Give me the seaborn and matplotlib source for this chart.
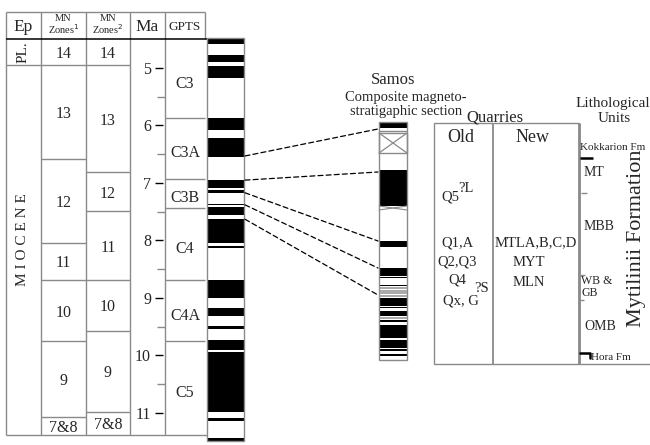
import matplotlib
matplotlib.use("Agg")
import matplotlib.pyplot as plt
from matplotlib.patches import Rectangle, ConnectionPatch
import seaborn as sns

sns.set_theme(style="white")
plt.rcParams["font.family"] = ["Liberation Serif", "DejaVu Serif"]

# ---------------- data ----------------
# age scale (Ma)
ma_ticks = [5, 6, 7, 8, 9, 10, 11]
ma_minor = [5.5, 6.5, 7.5, 8.5, 9.5, 10.5]

# mammal zones, two schemes (zone boundaries in Ma, top to base)
mn_labels = ["14", "13", "12", "11", "10", "9", "7&8"]
mn1_bounds = [4.50, 4.95, 6.58, 8.04, 8.69, 9.75, 11.07, 11.38]
mn2_bounds = [4.50, 4.95, 6.81, 7.49, 8.69, 9.57, 10.98, 11.38]

# geomagnetic polarity time scale chrons
gpts_labels = ["C3", "C3A", "C3B", "C4", "C4A", "C5"]
gpts_bounds = [4.50, 5.87, 6.93, 7.43, 8.69, 9.75, 11.38]

# normal polarity intervals of the GPTS column (Ma)
gpts_normal_top = [4.48, 4.77, 4.97, 5.87, 6.22, 6.95, 7.12, 7.37, 7.42, 7.63,
                   8.09, 8.69, 9.17, 9.49, 9.73, 9.94, 11.09, 11.44]
gpts_normal_base = [4.58, 4.89, 5.17, 6.08, 6.55, 7.09, 7.17, 7.39, 7.56, 8.04,
                    8.13, 9.00, 9.31, 9.54, 9.90, 10.98, 11.14, 11.49]

# Samos composite section, stratigraphic height (m above base)
samos_normal_top = [238, 190, 119, 92, 83.3, 75, 61.7, 53.3, 49.3, 40, 35, 20, 10.7, 5.7]
samos_normal_base = [232, 154, 113, 84, 82.3, 74, 54.3, 51.7, 44, 38.3, 21.7, 11.7, 9.3, 4.3]
samos_uncertain = [72, 69.5, 67, 64.5, 42]      # thin grey bands
samos_gap = (207, 227)                            # no-record interval

# correlation tie lines: GPTS age (Ma) -> Samos height (m)
tie_ma = [6.53, 6.95, 7.17, 7.38, 7.63]
tie_h = [231, 188, 119, 92, 65]

GRAY = "#8a8a8a"
W, H = 650, 445

fig = plt.figure(figsize=(6.5, 4.45), dpi=100)

# frame axes in pixel units for layout
ax = fig.add_axes([0, 0, 1, 1])
ax.set_xlim(0, W)
ax.set_ylim(H, 0)

# age axes: y in Ma (5 Ma at 68 px, 57.5 px per Ma)
Y5, PPM = 68.0, 57.5
ax_ma = fig.add_axes([0, 0, 1, 1])
ax_ma.set_xlim(0, W)
ax_ma.set_ylim(5 + (H - Y5) / PPM, 5 - Y5 / PPM)

# section axes: y in metres above base (base at 360 px)
ax_s = fig.add_axes([0, 0, 1, 1])
ax_s.set_xlim(0, W)
ax_s.set_ylim(360 - H, 360)

for a in (ax, ax_ma, ax_s):
    a.axis("off")
    a.patch.set_visible(False)

# ---------------- left table frame ----------------
col_x = [6, 41, 86, 130, 165, 205]
ax.hlines(12, 6, 205, colors=GRAY, lw=1)
ax.vlines(col_x[:-1], 12, 435, colors=GRAY, lw=1)
ax.vlines(205, 12, 39, colors=GRAY, lw=1)
ax.hlines(435, 6, 207, colors=GRAY, lw=1)
ax.hlines(39, 6, 207, colors="black", lw=1.1)

ax.text(23, 27, "Ep", ha="center", va="center", fontsize=12.5)
ax.text(63.5, 25, "MN\nZones$^{1}$", ha="center", va="center", fontsize=7.5, linespacing=1.0)
ax.text(108, 25, "MN\nZones$^{2}$", ha="center", va="center", fontsize=7.5, linespacing=1.0)
ax.text(147.5, 27, "Ma", ha="center", va="center", fontsize=12.5)
ax.text(185, 27, "GPTS", ha="center", va="center", fontsize=9.5)

# epochs
ax_ma.hlines(mn1_bounds[1], 6, 41, colors=GRAY, lw=1)
ax.text(23, 52, "PL.", rotation=90, ha="center", va="center", fontsize=11)
ax.text(23, 240, "M I O C E N E", rotation=90, ha="center", va="center", fontsize=11)

# MN zones
for bounds, x0, x1 in [(mn1_bounds, 41, 86), (mn2_bounds, 86, 130)]:
    ax_ma.hlines(bounds[1:-1], x0, x1, colors=GRAY, lw=1)
    for lab, top, base in zip(mn_labels, bounds[:-1], bounds[1:]):
        ax_ma.text((x0 + x1) / 2, (top + base) / 2, lab, ha="center",
                   va="center_baseline", fontsize=11.5)

# Ma scale
ax_ma.hlines(ma_ticks, 155, 163, colors="black", lw=1)
ax_ma.hlines(ma_minor, 157, 165, colors=GRAY, lw=1)
for t in ma_ticks:
    ax_ma.text(151, t, str(t), ha="right", va="center_baseline", fontsize=11.5)

# GPTS chrons
ax_ma.hlines(gpts_bounds[1:-1], 165, 205, colors=GRAY, lw=1)
for lab, top, base in zip(gpts_labels, gpts_bounds[:-1], gpts_bounds[1:]):
    ax_ma.text(185, (top + base) / 2 + 0.05, lab, ha="center",
               va="center_baseline", fontsize=11.5)

# GPTS polarity column
ax_ma.bar(225.5, [b - t for t, b in zip(gpts_normal_top, gpts_normal_base)],
          bottom=gpts_normal_top, width=37, color="black", lw=0)
ax_ma.add_patch(Rectangle((207, gpts_normal_top[0]), 37,
                          gpts_normal_base[-1] - gpts_normal_top[0],
                          fill=False, ec=GRAY, lw=1))

# ---------------- Samos section ----------------
ax.text(393, 80, "Samos", ha="center", va="center", fontsize=12)
ax.text(406, 97, "Composite magneto-", ha="center", va="center", fontsize=10.5)
ax.text(406, 111, "stratigaphic section", ha="center", va="center", fontsize=10.5)

sx0, sw = 379, 28
ax_s.bar(sx0 + sw / 2, [t - b for t, b in zip(samos_normal_top, samos_normal_base)],
         bottom=samos_normal_base, width=sw, color="black", lw=0)
ax_s.hlines(samos_uncertain, sx0, sx0 + sw, colors="#9a9a9a", lw=1.2)
ax_s.hlines(229, sx0, sx0 + sw, colors=GRAY, lw=1)
g0, g1 = samos_gap
ax_s.add_patch(Rectangle((sx0, g0), sw, g1 - g0, fill=False, ec=GRAY, lw=1))
ax_s.plot([sx0, sx0 + sw], [g0, g1], color=GRAY, lw=0.9)
ax_s.plot([sx0, sx0 + sw], [g1, g0], color=GRAY, lw=0.9)
ax_s.plot([sx0, sx0 + sw], [150, 154], color=GRAY, lw=0.8)
ax_s.plot([sx0, sx0 + sw], [154, 150], color=GRAY, lw=0.8)
ax_s.add_patch(Rectangle((sx0, 0), sw, samos_normal_top[0], fill=False, ec=GRAY, lw=1))

# tie lines
for m, h in zip(tie_ma, tie_h):
    con = ConnectionPatch(xyA=(245, m), coordsA=ax_ma.transData,
                          xyB=(sx0 - 1, h), coordsB=ax_s.transData,
                          color="black", lw=0.9, linestyle=(0, (4, 2.5)))
    fig.add_artist(con)

# ---------------- quarries ----------------
ax.text(495, 117, "Quarries", ha="center", va="center", fontsize=12)
ax.add_patch(Rectangle((434, 123), 145, 241, fill=False, ec=GRAY, lw=1))
ax.vlines(492.5, 123, 364, colors=GRAY, lw=1.3)
ax.vlines(579, 123, 364, colors=GRAY, lw=2)
ax.hlines(364, 579, 650, colors=GRAY, lw=1)

ax.text(461, 138, "Old", ha="center", va="center", fontsize=13)
ax.text(533, 137, "New", ha="center", va="center", fontsize=13)

ax.text(450, 197, "Q5", ha="center", va="center", fontsize=10.5)
ax.text(466, 188, "?L", ha="center", va="center", fontsize=10.5)
ax.text(457, 243, "Q1,A", ha="center", va="center", fontsize=10.5)
ax.text(457, 262, "Q2,Q3", ha="center", va="center", fontsize=10.5)
ax.text(457, 280, "Q4", ha="center", va="center", fontsize=10.5)
ax.text(482, 288, "?S", ha="center", va="center", fontsize=10.5)
ax.text(461, 301, "Qx, G", ha="center", va="center", fontsize=10.5)

ax.text(536, 243, "MTLA,B,C,D", ha="center", va="center", fontsize=10.5)
ax.text(529, 262, "MYT", ha="center", va="center", fontsize=10.5)
ax.text(529, 283, "MLN", ha="center", va="center", fontsize=10.5)

# ---------------- lithological units ----------------
ax.text(613, 104, "Lithological", ha="center", va="center", fontsize=11)
ax.text(614, 119, "Units", ha="center", va="center", fontsize=11)
ax.text(580.5, 147, "Kokkarion Fm", ha="left", va="center", fontsize=8)
ax.hlines(158, 580, 593, colors="black", lw=1.8)
ax.text(584, 173, "MT", ha="left", va="center", fontsize=10)
ax.hlines(193, 581, 587, colors=GRAY, lw=1)
ax.text(584, 226, "MBB", ha="left", va="center", fontsize=10)
ax.hlines(275, 580, 585, colors=GRAY, lw=1)
ax.text(581, 281, "WB &", ha="left", va="center", fontsize=8.5)
ax.text(581, 293, "GB", ha="left", va="center", fontsize=8.5)
ax.hlines(300, 580, 584, colors=GRAY, lw=1)
ax.text(584, 327, "OMB", ha="left", va="center", fontsize=10)
ax.plot([580, 590, 590], [353, 353, 358], color="black", lw=1.8)
ax.text(591, 358, "Hora Fm", ha="left", va="center", fontsize=8)
ax.text(637, 238, "Mytilinii Formation", rotation=90, ha="center", va="center", fontsize=16)

fig.savefig("out.png", dpi=100, facecolor="white")
